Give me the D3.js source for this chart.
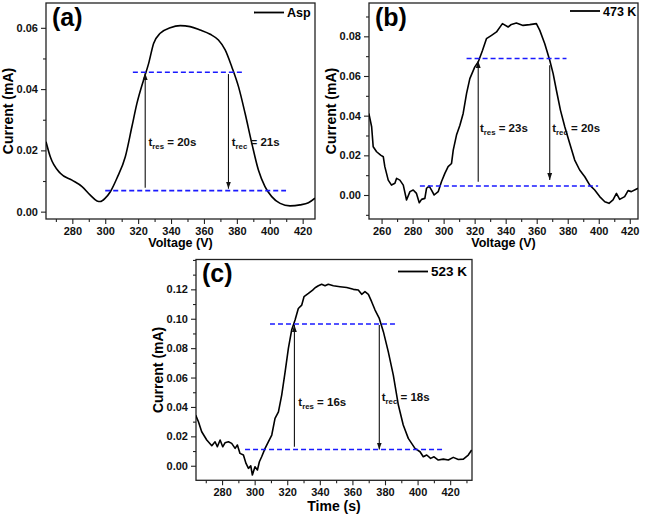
<!DOCTYPE html>
<html><head><meta charset="utf-8">
<script src="https://cdn.jsdelivr.net/npm/d3@7"></script>
<style>
html,body{margin:0;padding:0;background:#fff;}
svg{display:block;font-family:Arial,"Liberation Sans",sans-serif;}
</style></head>
<body>
<svg id="chart" width="646" height="516"></svg>
<script>
// ---------- DATA ----------
// Panel (a) Asp
const aX = [264.0,266.6,272.7,279.8,285.9,290.9,295.0,297.0,300.0,303.1,307.1,312.2,316.2,319.3,323.3,326.4,329.4,333.4,339.5,345.6,351.6,357.7,363.8,368.8,372.9,376.9,381.0,385.0,389.1,393.1,397.1,401.2,406.3,412.3,418.4,423.5,427.5];
const aY = [0.0228,0.0179,0.0125,0.0103,0.0082,0.0054,0.0035,0.0033,0.0044,0.0065,0.0109,0.0179,0.0277,0.0354,0.0430,0.0484,0.0549,0.0582,0.0600,0.0607,0.0604,0.0593,0.0579,0.0560,0.0528,0.0473,0.0408,0.0321,0.0223,0.0136,0.0082,0.0049,0.0027,0.0019,0.0022,0.0029,0.0044];
// Panel (b) 473 K
const bX = [251.8,253.6,254.6,256.8,259.4,261.1,262.1,264.3,266.4,268.6,269.7,271.8,274.0,276.1,278.3,280.4,282.5,284.3,285.8,287.9,289.0,290.7,292.2,293.9,296.5,298.6,300.8,302.9,305.1,306.2,308.3,310.5,312.6,314.8,316.9,320.1,322.3,325.1,327.6,330.9,334.1,337.9,341.6,343.7,346.9,351.2,355.5,359.8,362.0,365.2,368.4,370.6,372.7,375.3,378.1,381.3,384.5,387.7,391.0,394.2,397.4,400.6,403.9,406.6,409.2,411.4,413.5,416.7,418.9,421.0,425.3];
const bY = [0.0411,0.0344,0.0243,0.0218,0.0201,0.0193,0.0143,0.0075,0.0050,0.0059,0.0084,0.0075,0.0050,-0.0025,0.0017,0.0025,0.0008,-0.0039,-0.0022,-0.0017,0.0034,0.0045,0.0025,0.0000,0.0017,0.0067,0.0109,0.0143,0.0159,0.0226,0.0302,0.0352,0.0411,0.0512,0.0587,0.0646,0.0671,0.0730,0.0788,0.0805,0.0822,0.0864,0.0847,0.0860,0.0867,0.0855,0.0859,0.0864,0.0830,0.0763,0.0679,0.0612,0.0528,0.0428,0.0344,0.0260,0.0176,0.0126,0.0092,0.0050,0.0025,-0.0008,-0.0034,-0.0042,-0.0025,0.0008,-0.0022,-0.0008,0.0022,0.0017,0.0034];
// Panel (c) 523 K
const cX = [263.8,265.5,267.5,270.6,273.7,275.7,277.1,278.8,280.4,281.8,283.9,285.9,288.0,289.4,291.0,293.1,294.7,296.2,297.6,298.6,300.2,301.7,302.9,304.3,306.4,308.4,310.5,312.5,314.6,316.6,318.7,320.7,322.7,324.8,326.8,328.9,330.3,333.0,335.6,337.1,339.1,341.1,343.2,345.2,348.3,352.4,356.5,360.6,363.6,365.7,367.7,369.8,371.8,373.9,376.5,379.0,382.0,385.1,388.2,391.2,394.3,398.4,401.5,403.5,405.6,408.0,410.1,412.7,415.8,418.9,421.9,425.0,428.1,431.1,433.2];
const cY = [0.0345,0.0299,0.0231,0.0175,0.0136,0.0163,0.0129,0.0175,0.0129,0.0156,0.0163,0.0152,0.0118,0.0141,0.0084,0.0073,0.0016,-0.0018,0.0000,-0.0063,-0.0007,-0.0029,0.0027,0.0061,0.0118,0.0163,0.0209,0.0322,0.0367,0.0481,0.0639,0.0798,0.0923,0.0991,0.1070,0.1093,0.1150,0.1172,0.1195,0.1211,0.1224,0.1234,0.1224,0.1234,0.1224,0.1218,0.1213,0.1200,0.1195,0.1166,0.1184,0.1166,0.1116,0.1059,0.1002,0.0912,0.0776,0.0617,0.0413,0.0277,0.0186,0.0118,0.0095,0.0061,0.0073,0.0050,0.0061,0.0039,0.0045,0.0039,0.0057,0.0043,0.0045,0.0073,0.0107];

// tick labels
const aXTicks = [280,300,320,340,360,380,400,420];
const aYTicks = [0.00,0.02,0.04,0.06];
const bXTicks = [260,280,300,320,340,360,380,400,420];
const bYTicks = [0.00,0.02,0.04,0.06,0.08];
const cXTicks = [280,300,320,340,360,380,400,420];
const cYTicks = [0.00,0.02,0.04,0.06,0.08,0.10,0.12];

// annotations: dashed levels [y, x0, x1]
const aDash = [[0.0455,316.8,384.4],[0.00685,300.0,409.9]];
const bDash = [[0.0688,314.8,379.2],[0.0045,284.7,399.6]];
const cDash = [[0.0964,309.4,387.6],[0.0111,294.1,416.8]];
// arrows [x, yFrom, yTo]
const aArrows = [[324.3,0.0078,0.0452],[374.9,0.0449,0.0075]];
const bArrows = [[322.3,0.0067,0.0676],[368.4,0.0654,0.0076]];
const cArrows = [[324.4,0.0129,0.0958],[376.5,0.0957,0.0110]];
// labels [x, y, subscript, value]
const aNotes = [[326.3,0.0214,"res"," = 20s"],[376.9,0.0214,"rec"," = 21s"]];
const bNotes = [[323.4,0.0317,"res"," = 23s"],[370.0,0.0317,"rec"," = 20s"]];
const cNotes = [[326.8,0.0406,"res"," = 16s"],[378.0,0.0440,"rec"," = 18s"]];

const legends = ["Asp","473 K","523 K"];
const panelTags = ["(a)","(b)","(c)"];
const xTitles = ["Voltage (V)","Voltage (V)","Time (s)"];
const yTitle = "Current (mA)";

// ---------- DRAW ----------
const svg = d3.select("#chart");
const defs = svg.append("defs");
defs.append("marker").attr("id","ah").attr("viewBox","0 0 10 10").attr("refX",10).attr("refY",5)
  .attr("markerWidth",7).attr("markerHeight",7).attr("orient","auto-start-reverse")
  .attr("markerUnits","userSpaceOnUse")
  .append("path").attr("d","M0,1.5 L10,5 L0,8.5 Z").attr("fill","#111");

function drawPanel(p){
  const g = svg.append("g");
  const x = d3.scaleLinear().domain(p.xDom).range([p.L,p.R]);
  const y = d3.scaleLinear().domain(p.yDom).range([p.B,p.T]);

  const xMinor = d3.range(Math.ceil(p.xDom[0]/10)*10, p.xDom[1], 10).filter(v=>!p.xTicks.includes(v));
  const yMinor = d3.range(-0.01, p.yDom[1], 0.01).map(v=>+v.toFixed(3)).filter(v=>v>p.yDom[0] && !p.yTicks.some(t=>Math.abs(t-v)<1e-6));

  g.append("g").attr("transform",`translate(0,${p.B})`)
    .call(d3.axisBottom(x).tickValues(p.xTicks).tickSize(5).tickSizeOuter(0).tickPadding(3).tickFormat(d3.format("d")));
  g.append("g").attr("transform",`translate(0,${p.B})`)
    .call(d3.axisBottom(x).tickValues(xMinor).tickSize(3).tickSizeOuter(0).tickFormat(""));
  g.append("g").attr("transform",`translate(${p.L},0)`)
    .call(d3.axisLeft(y).tickValues(p.yTicks).tickSize(5).tickSizeOuter(0).tickPadding(3).tickFormat(d3.format(".2f")));
  g.append("g").attr("transform",`translate(${p.L},0)`)
    .call(d3.axisLeft(y).tickValues(yMinor).tickSize(3).tickSizeOuter(0).tickFormat(""));
  g.selectAll(".tick line").attr("stroke","#222").attr("stroke-width",1.1);
  g.selectAll(".domain").remove();
  g.selectAll(".tick text").attr("font-size",p.tickFs).attr("font-weight","bold").attr("fill","#111")
    .attr("font-family",'Arial,"Liberation Sans",sans-serif');

  g.append("rect").attr("x",p.L).attr("y",p.T).attr("width",p.R-p.L).attr("height",p.B-p.T)
    .attr("fill","none").attr("stroke","#222").attr("stroke-width",1.3);

  const cid = "clip"+p.id;
  defs.append("clipPath").attr("id",cid).append("rect").attr("x",p.L).attr("y",p.T).attr("width",p.R-p.L).attr("height",p.B-p.T);

  const pts = p.xs.map((v,i)=>[v,p.ys[i]]);
  g.append("path").attr("clip-path",`url(#${cid})`).datum(pts)
    .attr("d", d3.line().x(d=>x(d[0])).y(d=>y(d[1])).curve(p.smooth ? d3.curveMonotoneX : d3.curveLinear))
    .attr("fill","none").attr("stroke","#000").attr("stroke-width",1.6).attr("stroke-linejoin","round");

  g.selectAll(".lvl"+p.id).data(p.dash).join("line")
    .attr("x1",d=>x(d[1])).attr("x2",d=>x(d[2])).attr("y1",d=>y(d[0])).attr("y2",d=>y(d[0]))
    .attr("stroke","#1a1aff").attr("stroke-width",1.6).attr("stroke-dasharray","5,3");

  g.selectAll(".arr"+p.id).data(p.arrows).join("line")
    .attr("x1",d=>x(d[0])).attr("x2",d=>x(d[0])).attr("y1",d=>y(d[1])).attr("y2",d=>y(d[2]))
    .attr("stroke","#111").attr("stroke-width",1.1).attr("marker-end","url(#ah)");

  p.notes.forEach(n=>{
    const t = g.append("text").attr("x",x(n[0])).attr("y",y(n[1])).attr("font-size",p.noteFs)
      .attr("font-weight","bold").attr("fill","#111");
    t.append("tspan").text("t");
    t.append("tspan").attr("dy",3).attr("font-size",p.noteFs*0.68).text(n[2]);
    t.append("tspan").attr("dy",-3).text(n[3]);
  });

  g.append("line").attr("x1",p.R-p.legOff).attr("x2",p.R-p.legOff+30).attr("y1",p.T+p.legDy).attr("y2",p.T+p.legDy)
    .attr("stroke","#000").attr("stroke-width",1.8);
  g.append("text").attr("x",p.R-p.legOff+33).attr("y",p.T+p.legDy+4.5).attr("font-size",p.legFs)
    .attr("font-weight","bold").text(p.legend);

  g.append("text").attr("x",p.L+6).attr("y",p.T+p.tagDy).attr("font-size",p.tagFs).attr("font-weight","bold").text(p.tag);

  g.append("text").attr("x",(p.L+p.R)/2).attr("y",p.xtY).attr("text-anchor","middle")
    .attr("font-size",p.xtFs).attr("font-weight","bold").text(p.xTitle);
  g.append("text").attr("transform",`translate(${p.ytX},${(p.T+p.B)/2}) rotate(-90)`).attr("text-anchor","middle")
    .attr("font-size",p.ytFs).attr("font-weight","bold").text(yTitle);
}

drawPanel({id:"a",L:46,R:315,T:3,B:219,xDom:[264,427.5],yDom:[-0.0024,0.0681],smooth:true,
  xTicks:aXTicks,yTicks:aYTicks,xs:aX,ys:aY,dash:aDash,arrows:aArrows,notes:aNotes,
  legend:legends[0],tag:panelTags[0],xTitle:xTitles[0],
  tickFs:11,noteFs:11.5,legFs:12.5,legOff:61,legDy:9.5,tagFs:25,tagDy:23,xtY:247,xtFs:12.5,ytX:13,ytFs:14});
drawPanel({id:"b",L:369,R:638,T:3,B:219,xDom:[251.9,425.3],yDom:[-0.0121,0.0968],smooth:false,
  xTicks:bXTicks,yTicks:bYTicks,xs:bX,ys:bY,dash:bDash,arrows:bArrows,notes:bNotes,
  legend:legends[1],tag:panelTags[1],xTitle:xTitles[1],
  tickFs:11,noteFs:11.5,legFs:12.5,legOff:68,legDy:8,tagFs:25,tagDy:23,xtY:247,xtFs:12.5,ytX:336,ytFs:14});
drawPanel({id:"c",L:196,R:472,T:259.5,B:480.3,xDom:[264,433.4],yDom:[-0.0099,0.1403],smooth:false,
  xTicks:cXTicks,yTicks:cYTicks,xs:cX,ys:cY,dash:cDash,arrows:cArrows,notes:cNotes,
  legend:legends[2],tag:panelTags[2],xTitle:xTitles[2],
  tickFs:11,noteFs:11.5,legFs:13.5,legOff:74,legDy:12,tagFs:25,tagDy:22,xtY:511,xtFs:14,ytX:163,ytFs:14});
</script>
</body></html>
